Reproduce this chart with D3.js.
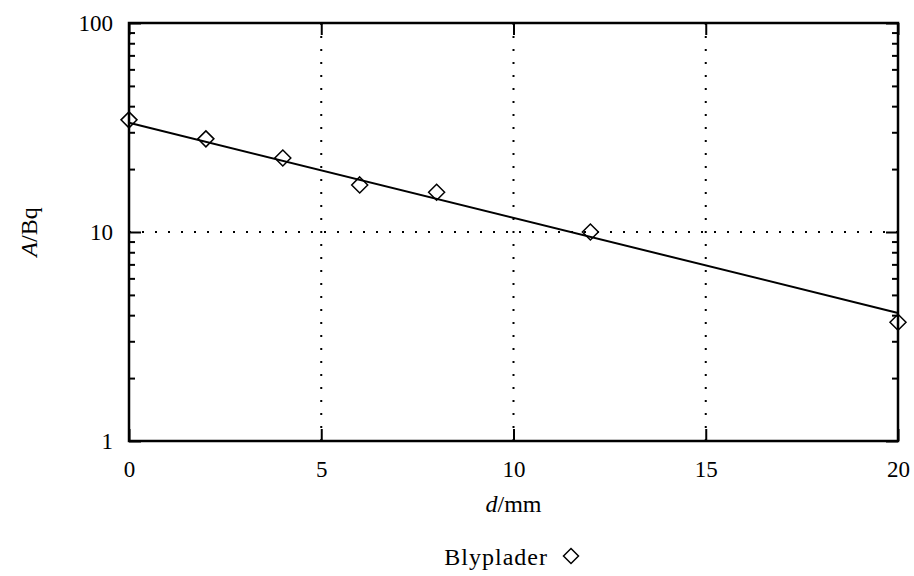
<!DOCTYPE html>
<html><head><meta charset="utf-8">
<script src="https://cdn.jsdelivr.net/npm/d3@7"></script>
<style>
body{margin:0;background:#fff;}
text{font-family:"Liberation Serif","DejaVu Serif",serif;fill:#000;}
</style></head>
<body><svg id="c" width="914" height="576"></svg>
<script>
const thicknessMm = [0, 2, 4, 6, 8, 12, 20];
const activityBq = [34.4, 27.9, 22.6, 16.8, 15.5, 10.0, 3.7];
const fitX = [0, 20];
const fitY = [33.3, 4.1];
const xTicks = [0, 5, 10, 15, 20];
const yTicks = [1, 10, 100];
const yMinor = [2,3,4,5,6,7,8,9,20,30,40,50,60,70,80,90];
const legendLabel = "Blyplader";

const svg = d3.select("#c");
const L = 129, R = 898, T = 23, B = 441;
const x = d3.scaleLinear().domain([0, 20]).range([L, R]);
const y = d3.scaleLog().domain([1, 100]).range([B, T]);

// grid
const grid = svg.append("g").attr("stroke","#000").attr("stroke-width",2).attr("stroke-dasharray","2,11");
grid.selectAll(".gx").data(xTicks.filter(d=>d>0&&d<20)).join("line")
  .attr("x1",d=>x(d)).attr("x2",d=>x(d)).attr("y1",B).attr("y2",T);
grid.selectAll(".gy").data(yTicks.filter(d=>d>1&&d<100)).join("line")
  .attr("y1",d=>y(d)).attr("y2",d=>y(d)).attr("x1",L).attr("x2",R);

// axes (inward ticks)
const fmt = d3.format("d");
svg.append("g").attr("transform",`translate(0,${B})`)
  .call(d3.axisBottom(x).tickValues(xTicks).tickSize(-12).tickPadding(20).tickFormat(fmt));
svg.append("g").attr("transform",`translate(0,${T})`)
  .call(d3.axisTop(x).tickValues(xTicks).tickSize(-12).tickFormat(""));
svg.append("g").attr("transform",`translate(${L},0)`)
  .call(d3.axisLeft(y).tickValues(yTicks).tickSize(-12).tickPadding(16).tickFormat(fmt));
svg.append("g").attr("transform",`translate(${R},0)`)
  .call(d3.axisRight(y).tickValues(yTicks).tickSize(-12).tickFormat(""));
svg.append("g").attr("transform",`translate(${L},0)`)
  .call(d3.axisLeft(y).tickValues(yMinor).tickSize(-6).tickFormat(""));
svg.append("g").attr("transform",`translate(${R},0)`)
  .call(d3.axisRight(y).tickValues(yMinor).tickSize(-6).tickFormat(""));
svg.selectAll(".domain").remove();
svg.selectAll(".tick line").attr("stroke","#000").attr("stroke-width",2);
svg.selectAll(".tick text").attr("font-size",23).attr("fill","#000");

// frame
svg.append("rect").attr("x",L).attr("y",T).attr("width",R-L).attr("height",B-T)
  .attr("fill","none").attr("stroke","#000").attr("stroke-width",2.5);

// fit line
svg.append("path").datum(fitX.map((d,i)=>[d,fitY[i]]))
  .attr("d", d3.line().x(d=>x(d[0])).y(d=>y(d[1])))
  .attr("fill","none").attr("stroke","#000").attr("stroke-width",2);

// points
const dia = (cx,cy,r)=>`M${cx},${cy-r}L${cx+r},${cy}L${cx},${cy+r}L${cx-r},${cy}Z`;
svg.append("g").selectAll("path").data(thicknessMm).join("path")
  .attr("d",(d,i)=>dia(x(d),y(activityBq[i]),8))
  .attr("fill","none").attr("stroke","#000").attr("stroke-width",1.5);

// titles
const xt = svg.append("text").attr("x",(L+R)/2).attr("y",512).attr("text-anchor","middle").attr("font-size",24);
xt.append("tspan").attr("font-style","italic").text("d");
xt.append("tspan").text("/mm");
const yt = svg.append("text").attr("transform",`translate(37,${(T+B)/2}) rotate(-90)`).attr("text-anchor","middle").attr("font-size",24);
yt.append("tspan").attr("font-style","italic").text("A");
yt.append("tspan").text("/Bq");

// legend
svg.append("text").attr("x",548).attr("y",565).attr("text-anchor","end").attr("font-size",24).attr("letter-spacing",1).text(legendLabel);
svg.append("path").attr("d",dia(571,556,7.5)).attr("fill","none").attr("stroke","#000").attr("stroke-width",1.5);
</script></body></html>
